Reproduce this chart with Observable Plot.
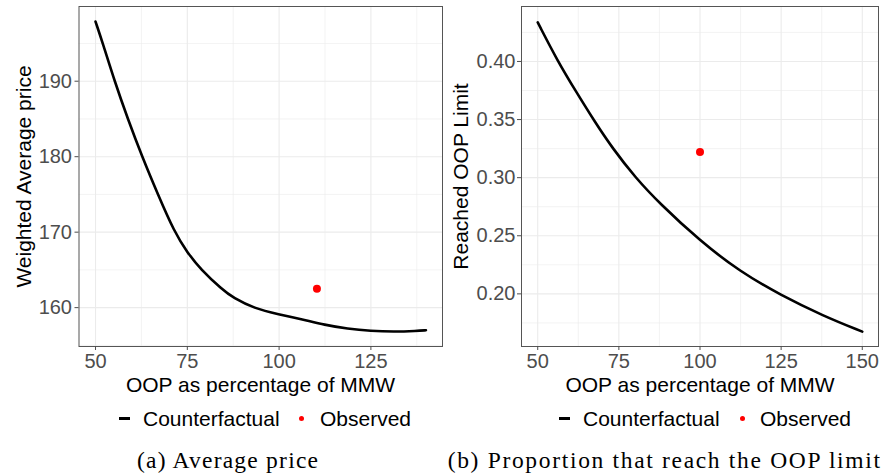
<!DOCTYPE html>
<html><head><meta charset="utf-8">
<script src="https://cdn.jsdelivr.net/npm/d3@7"></script>
<script src="https://cdn.jsdelivr.net/npm/@observablehq/plot@0.6"></script>
<style>
body{margin:0;background:#fff;}
#root{position:relative;width:883px;height:476px;overflow:hidden;background:#fff;font-family:"Liberation Sans",Arial,sans-serif;}
.t{position:absolute;white-space:nowrap;line-height:21px;font-size:21px;color:#000;}
.tx{position:absolute;white-space:nowrap;line-height:15px;font-size:21px;color:#000;}
.cap{position:absolute;white-space:nowrap;font-family:"Liberation Serif","Times New Roman",serif;font-size:23.5px;line-height:23.5px;color:#000;}
.plot{position:absolute;top:0;}
.key-line{position:absolute;background:#000;}
.key-dot{position:absolute;background:#ff0000;border-radius:50%;}
</style></head><body><div id="root"></div>
<script>
// ---- data ----
const leftX = [50, 52, 55.2, 58.8, 62.7, 67.0, 71.5, 75, 78.6, 84.5, 87.5, 93.2, 100, 105.9, 112.5, 118.6, 125, 131.2, 137.5, 140];
const leftY = [197.9, 195, 190, 185, 180, 175, 170, 167.3, 165.1, 162.4, 161.3, 159.9, 159.1, 158.5, 157.7, 157.2, 156.9, 156.8, 156.9, 157.0];
const leftObsX = [110.3];
const leftObsY = [162.5];

const rightX = [50, 56.2, 61.6, 67.6, 73.0, 80.1, 87.5, 100, 112.4, 124.8, 138, 150];
const rightY = [0.4336, 0.400, 0.375, 0.348, 0.3255, 0.300, 0.278, 0.2455, 0.219, 0.199, 0.181, 0.1675];
const rightObsX = [100];
const rightObsY = [0.322];

// ---- ticks / labels ----
const leftXTicks = [50, 75, 100, 125];
const leftXTickLabels = ["50", "75", "100", "125"];
const leftXMinor = [62.5, 87.5, 112.5, 137.5];
const leftYTicks = [160, 170, 180, 190];
const leftYTickLabels = ["160", "170", "180", "190"];
const leftYMinor = [155, 165, 175, 185, 195];

const rightXTicks = [50, 75, 100, 125, 150];
const rightXTickLabels = ["50", "75", "100", "125", "150"];
const rightXMinor = [62.5, 87.5, 112.5, 137.5];
const rightYTicks = [0.20, 0.25, 0.30, 0.35, 0.40];
const rightYTickLabels = ["0.20", "0.25", "0.30", "0.35", "0.40"];
const rightYMinor = [0.175, 0.225, 0.275, 0.325, 0.375, 0.425];

const xTitle = "OOP as percentage of MMW";
const leftYTitle = "Weighted Average price";
const rightYTitle = "Reached OOP Limit";
const legendLabels = ["Counterfactual", "Observed"];
const captions = ["(a) Average price", "(b) Proportion that reach the OOP limit"];

const root = document.getElementById("root");

function panel(cfg) {
  const line = cfg.xs.map((x, i) => ({x, y: cfg.ys[i]}));
  const obs = cfg.ox.map((x, i) => ({x, y: cfg.oy[i]}));
  const fmt = (ticks, labels) => d => labels[ticks.findIndex(t => Math.abs(t - d) < 1e-9)];
  const p = Plot.plot({
    width: cfg.width, height: 395,
    marginTop: 6, marginBottom: 49, marginLeft: cfg.ml, marginRight: cfg.mr,
    style: {fontFamily: '"Liberation Sans", Arial, sans-serif', fontSize: "20px", background: "white"},
    x: {domain: cfg.xd, label: null},
    y: {domain: cfg.yd, label: null},
    marks: [
      Plot.gridX(cfg.xMinor, {stroke: "#EBEBEB", strokeOpacity: 1, strokeWidth: 0.6}),
      Plot.gridY(cfg.yMinor, {stroke: "#EBEBEB", strokeOpacity: 1, strokeWidth: 0.6}),
      Plot.gridX(cfg.xTicks, {stroke: "#EBEBEB", strokeOpacity: 1, strokeWidth: 1.1}),
      Plot.gridY(cfg.yTicks, {stroke: "#EBEBEB", strokeOpacity: 1, strokeWidth: 1.1}),
      Plot.line(line, {x: "x", y: "y", stroke: "black", strokeWidth: 2.6, curve: "basis"}),
      Plot.dot(obs, {x: "x", y: "y", r: 4, fill: "#ff0000", stroke: "none"}),
      Plot.frame({stroke: "#555555", strokeWidth: 1}),
      Plot.axisX(cfg.xTicks, {tickSize: 4, tickPadding: 3, color: "#4D4D4D", label: null,
        tickFormat: fmt(cfg.xTicks, cfg.xLabels)}),
      Plot.axisY(cfg.yTicks, {tickSize: 4, tickPadding: cfg.ypad, color: "#4D4D4D", label: null,
        tickFormat: fmt(cfg.yTicks, cfg.yLabels)})
    ]
  });
  p.classList.add("plot");
  p.style.left = cfg.left + "px";
  root.appendChild(p);
}

panel({left: 0, width: 445, ml: 78.5, mr: 3, xd: [45.5, 144.5], yd: [154.85, 199.9],
  xs: leftX, ys: leftY, ox: leftObsX, oy: leftObsY,
  xTicks: leftXTicks, xLabels: leftXTickLabels, xMinor: leftXMinor,
  yTicks: leftYTicks, yLabels: leftYTickLabels, yMinor: leftYMinor, ypad: 3});

panel({left: 443, width: 440, ml: 78, mr: 5, xd: [45, 155], yd: [0.1547, 0.4473],
  xs: rightX, ys: rightY, ox: rightObsX, oy: rightObsY,
  xTicks: rightXTicks, xLabels: rightXTickLabels, xMinor: rightXMinor,
  yTicks: rightYTicks, yLabels: rightYTickLabels, yMinor: rightYMinor, ypad: 2});

function addText(cls, text, css) {
  const d = document.createElement("div");
  d.className = cls;
  d.textContent = text;
  Object.assign(d.style, css);
  root.appendChild(d);
  return d;
}

// x titles
addText("tx", xTitle, {left: (260.5 - 200) + "px", width: "400px", textAlign: "center", top: "376.5px"});
addText("tx", xTitle, {left: (700 - 200) + "px", width: "400px", textAlign: "center", top: "376.5px"});
// y titles
addText("t", leftYTitle, {left: (22.7 - 150) + "px", top: (176 - 10.5) + "px", width: "300px", textAlign: "center", transform: "rotate(-90deg)"});
addText("t", rightYTitle, {left: (459.7 - 150) + "px", top: (176 - 10.5) + "px", width: "300px", textAlign: "center", transform: "rotate(-90deg)"});

// legends
function legend(keyX, textX, dotX, obsX) {
  const l = document.createElement("div");
  l.className = "key-line";
  Object.assign(l.style, {left: keyX + "px", top: "417px", width: "11px", height: "3px"});
  root.appendChild(l);
  addText("t", legendLabels[0], {left: textX + "px", top: "408px"});
  const d = document.createElement("div");
  d.className = "key-dot";
  Object.assign(d.style, {left: (dotX - 2.5) + "px", top: (418.5 - 2.5) + "px", width: "5px", height: "5px"});
  root.appendChild(d);
  addText("t", legendLabels[1], {left: obsX + "px", top: "408px"});
}
legend(119, 143, 301.7, 320);
legend(559.3, 583, 742, 760);

// captions
function caption(text, x0, x1) {
  const c = addText("cap", text, {left: x0 + "px", top: "449px"});
  const w = c.getBoundingClientRect().width;
  const n = text.length;
  c.style.letterSpacing = ((x1 - x0 - w) / (n - 1)) + "px";
}
caption(captions[0], 137, 318);
caption(captions[1], 447.7, 880);
</script>
</body></html>
